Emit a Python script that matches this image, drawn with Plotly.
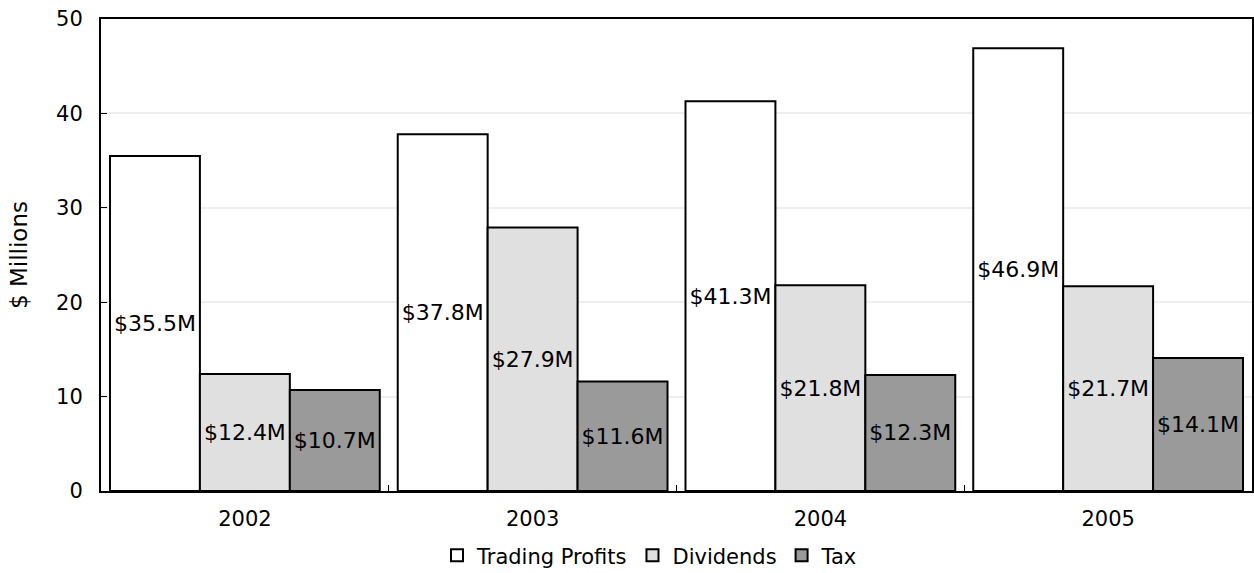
import plotly.graph_objects as go

years = ["2002", "2003", "2004", "2005"]
trading_profits = [35.5, 37.8, 41.3, 46.9]
dividends = [12.4, 27.9, 21.8, 21.7]
tax = [10.7, 11.6, 12.3, 14.1]

series = [
    ("Trading Profits", trading_profits, "#ffffff"),
    ("Dividends", dividends, "#e0e0e0"),
    ("Tax", tax, "#9a9a9a"),
]

FONT = "DejaVu Sans"
INK = "#000000"

fig = go.Figure()
for name, values, color in series:
    fig.add_trace(go.Bar(
        name=name,
        x=years,
        y=values,
        marker=dict(color=color, line=dict(color=INK, width=2)),
        text=[f"${v:.1f}M" for v in values],
        textposition="inside",
        insidetextanchor="middle",
        textangle=0,
        textfont=dict(family=FONT, size=22, color=INK),
    ))

fig.update_layout(
    width=1254,
    height=573,
    barmode="group",
    bargap=0.0625,
    bargroupgap=0,
    paper_bgcolor="#ffffff",
    plot_bgcolor="#ffffff",
    font=dict(family=FONT, size=21, color=INK),
    margin=dict(l=101, r=2, t=19, b=82, autoexpand=False),
    uniformtext=dict(minsize=22, mode="show"),
    showlegend=True,
    legend=dict(
        orientation="h",
        x=0.477, xanchor="center",
        y=-0.137, yanchor="middle",
        font=dict(family=FONT, size=21, color=INK),
        itemwidth=30,
        traceorder="normal",
    ),
    xaxis=dict(
        showline=True, linecolor=INK, linewidth=2, mirror=True,
        ticks="inside", tickson="boundaries", ticklen=6, tickcolor=INK,
        tickfont=dict(size=21),
        ticklabelstandoff=8,
        showgrid=False,
    ),
    yaxis=dict(
        range=[0, 50],
        dtick=10,
        showline=True, linecolor=INK, linewidth=2, mirror=True,
        ticks="inside", ticklen=6, tickcolor=INK,
        tickfont=dict(size=21),
        ticklabelstandoff=12,
        showgrid=True, gridcolor="#eeeeee", gridwidth=2,
        zeroline=False,
        title=dict(text="$ Millions", font=dict(size=23), standoff=22),
    ),
)

fig.write_html("out.html")
